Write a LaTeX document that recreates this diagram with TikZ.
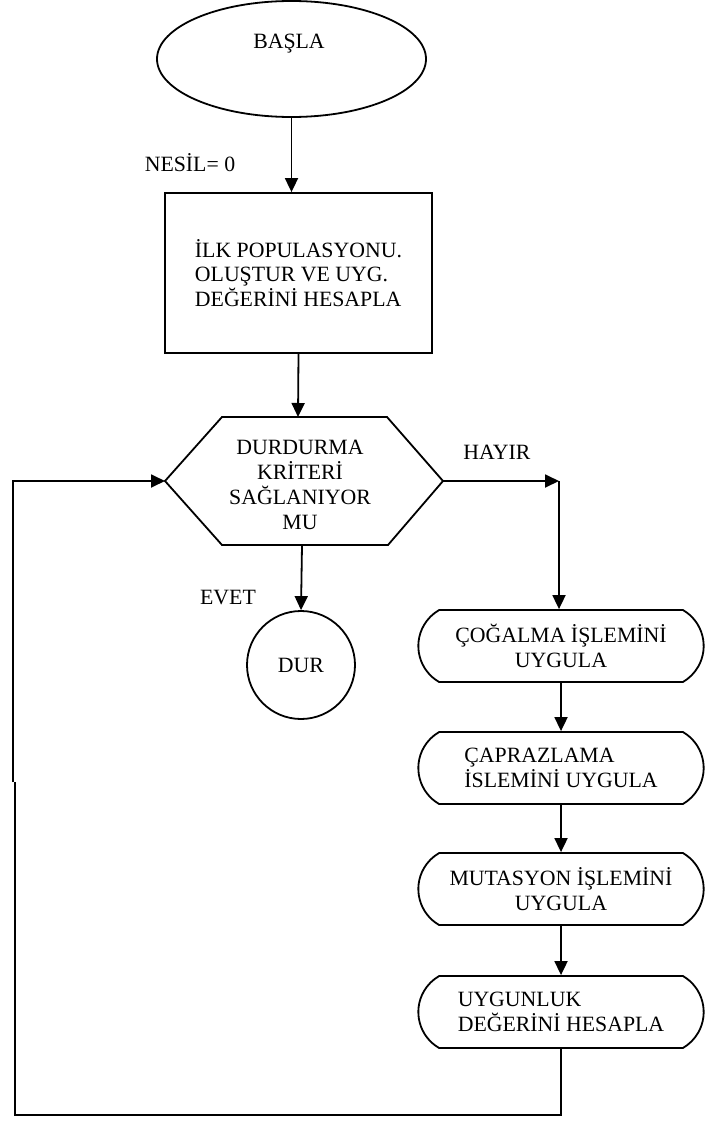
\documentclass[tikz,border=0pt]{standalone}
\usepackage{fontspec}
\setmainfont{Liberation Serif}
\usetikzlibrary{shapes.geometric,shapes.misc,positioning,arrows.meta}

\begin{document}
\begin{tikzpicture}[x=1pt, y=-1pt, line width=1.8pt,
    every node/.style={font=\fontsize{21.8}{24.8}\selectfont},
    arr/.style={-{Triangle[length=14pt,width=13pt]}},
    start/.style={draw, ellipse, minimum width=269, minimum height=116},
    box/.style={draw, rectangle, minimum width=267, minimum height=160, align=left},
    term/.style={draw, rounded rectangle, rounded rectangle arc length=120,
                 minimum width=292, minimum height=72},
    stop/.style={draw, circle, minimum size=108}]
    \useasboundingbox (0,0) rectangle (705,1121);

    \node [start] (basla) at (291.5,59) {};
    \node (baslalbl) at (289,44) {BAŞLA};
    \node (nesil) at (190,163) {NESİL= 0};
    \node [box] (ilk) at (298.5,273) {İLK POPULASYONU.\\OLUŞTUR VE UYG.\\DEĞERİNİ HESAPLA};

    % karar
    \coordinate (decT) at (298,417);
    \coordinate (decL) at (165,481);
    \coordinate (decR) at (443,481);
    \coordinate (decB) at (302,545);
    \draw (decL) -- (222,417) -- (387,417) -- (decR) -- (388,545) -- (222,545) -- cycle;
    \node [align=center] (karar) at (300,485) {DURDURMA\\KRİTERİ\\SAĞLANIYOR\\MU};

    \node (hayir) at (497,452) {HAYIR};
    \node (evet) at (228,598) {EVET};
    \node [stop] (dur) at (301,665) {DUR};

    \node [term, align=center] (cogal) at (561,646) {ÇOĞALMA İŞLEMİNİ\\UYGULA};
    \node [term, align=left]   (capraz) at (561,768) {ÇAPRAZLAMA\\İSLEMİNİ UYGULA};
    \node [term, align=center] (mutas) at (561,889) {MUTASYON İŞLEMİNİ\\UYGULA};
    \node [term, align=left]   (uygun) at (561,1012) {UYGUNLUK\\DEĞERİNİ HESAPLA};

    \draw[arr] (basla.south) -- (basla.south |- ilk.north);
    \draw[arr] (ilk.south) -- (decT);
    \draw[arr] (decB) -- (dur.north);

    \coordinate (sagK) at (559,481);
    \draw[arr] (decR) -- (sagK);
    \draw[arr] (sagK) -- (sagK |- cogal.north);
    \draw[arr] (cogal) -- (capraz);
    \draw[arr] (capraz) -- (mutas);
    \draw[arr] (mutas) -- (uygun);

    % geri donus
    \coordinate (loopA) at (15,1115);
    \coordinate (loopB) at (15,782);
    \coordinate (loopC) at (13,782);
    \coordinate (loopD) at (13,481);
    \draw (uygun.south) |- (loopA) -- (loopB);
    \draw[arr] (loopC) -- (loopD) -- (decL);
\end{tikzpicture}
\end{document}
